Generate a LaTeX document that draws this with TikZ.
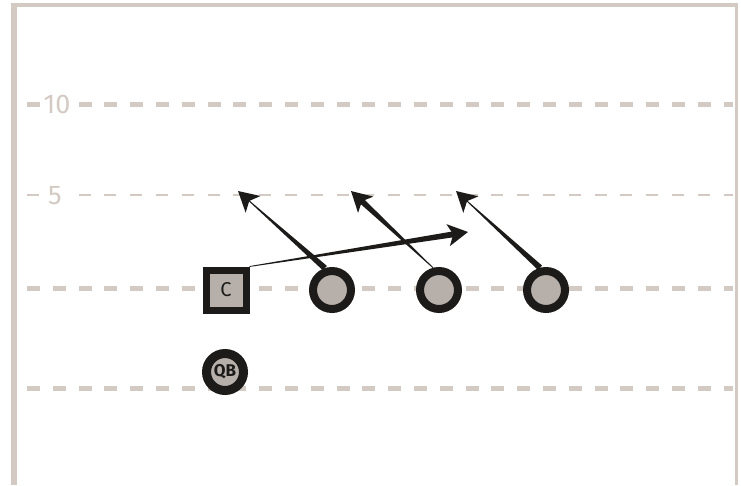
\documentclass[tikz,border=0pt]{standalone}
\usepackage{fontspec}
\setmainfont{Fira Sans}
\usetikzlibrary{positioning,calc,arrows.meta}

\definecolor{chalk}{HTML}{D3CAC3}
\definecolor{jersey}{HTML}{B7AFAA}
\definecolor{ink}{HTML}{1C1B19}

% tapered route: from, tip, half width at start, half width at head
\newcommand{\route}[4]{%
  \coordinate (rt) at ($(#2)!12pt!(#1)$);
  \fill[ink] ($(#1)!#3!90:(rt)$) -- ($(rt)!#4!-90:(#1)$) -- ($(rt)!#4!90:(#1)$) -- ($(#1)!#3!-90:(rt)$) -- cycle;
  \fill[ink] (#2) -- ($(#2)!23pt!29:(#1)$) -- ($(#2)!15pt!(#1)$) -- ($(#2)!23pt!-29:(#1)$) -- cycle;
}

\begin{document}
\begin{tikzpicture}[
  x=1pt,y=-1pt,
  yard/.style={chalk,line width=5pt,dash pattern=on 13pt off 12.8pt},
  hash/.style={chalk,line width=2.5pt,dash pattern=on 12pt off 13.8pt},
  marker/.style={fill=white,text=chalk,minimum width=32pt,inner sep=1pt,font=\fontsize{27}{27}\selectfont},
  player/.style={circle,draw=ink,fill=jersey,line width=8pt,minimum size=38pt,inner sep=0pt,text=ink},
  lineman/.style={rectangle,draw=ink,fill=jersey,line width=7pt,minimum size=40pt,inner sep=0pt,text=ink,font=\fontsize{20}{20}\selectfont}
]
\useasboundingbox (0,0) rectangle (741,485);
% field border
\fill[chalk] (11,3) rectangle (17,485);
\fill[chalk] (11,3) rectangle (738,7);
\fill[chalk] (735,3) rectangle (738,485);
% yard lines
\draw[yard] (27,104) -- (733,104);
\draw[hash] (27,195) -- (733,195);
\draw[yard] (27,288) -- (733,288);
\draw[yard] (27,388) -- (733,388);
\node[marker] (ten) at (57,104) {10};
\node[marker] (five) at (55,196) {5};
% players
\node[lineman] (c) at (226,290) {C};
\node[player] (p1) at (332,290) {};
\node[player] (p2) at (439,290) {};
\node[player] (p3) at (546,290) {};
\node[player,line width=9pt,minimum size=37pt,font=\bfseries\fontsize{17}{17}\selectfont] (qb) at (225,372) {QB};
% routes
\coordinate (t1) at (238,191);
\coordinate (t2) at (351,191);
\coordinate (t3) at (456,191);
\coordinate (tc) at (468,232);
\route{p1.108}{t1}{3pt}{0.4pt}
\route{p2.105}{t2}{0.4pt}{3pt}
\route{p3.105}{t3}{3pt}{0.4pt}
\route{c.north east}{tc}{0.4pt}{3pt}
\end{tikzpicture}
\end{document}
